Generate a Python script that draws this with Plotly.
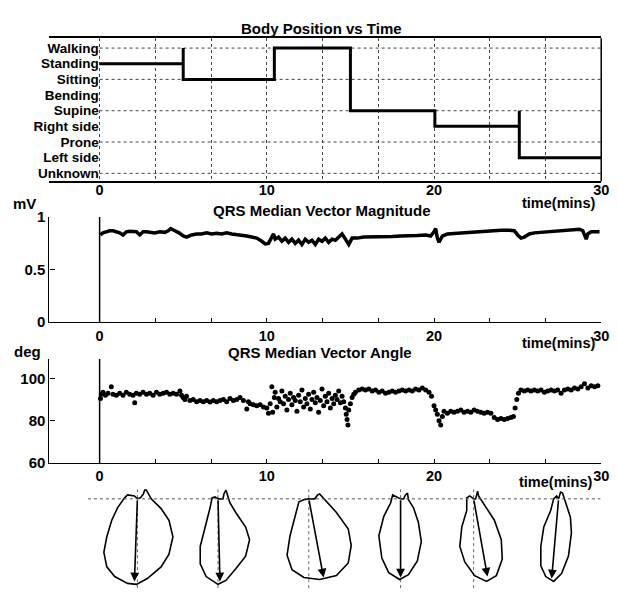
import plotly.graph_objects as go

# ---------------- data ----------------
positions = ["Walking", "Standing", "Sitting", "Bending", "Supine",
             "Right side", "Prone", "Left side", "Unknown"]          # top -> bottom
pos_times = [0, 5, 5, 5, 10.45, 10.45, 15, 15, 20.05, 20.05, 25.1, 25.1, 25.1, 30]
pos_states = ["Standing", "Standing", "Walking", "Sitting", "Sitting", "Walking",
              "Walking", "Supine", "Supine", "Right side", "Right side", "Supine",
              "Left side", "Left side"]

time_ticks = [0, 10, 20, 30]
time_minor = [10/3, 20/3, 40/3, 50/3, 70/3, 80/3]

mag_t = [0.05, 0.2, 0.4, 0.6, 0.8, 1.0, 1.2, 1.4, 1.6, 1.8, 2.0, 2.2, 2.4, 2.6, 2.8, 3.0,
         3.3, 3.6, 3.9, 4.1, 4.25, 4.5, 4.75, 5.0, 5.2, 5.5, 5.8, 6.1, 6.4, 6.7, 7.0, 7.3,
         7.6, 7.9, 8.2, 8.5, 8.8, 9.1, 9.4, 9.7, 9.9, 10.1, 10.3, 10.4, 10.5, 10.7, 10.9,
         11.1, 11.3, 11.5, 11.7, 11.9, 12.1, 12.3, 12.5, 12.7, 12.9, 13.1, 13.3, 13.5,
         13.7, 13.9, 14.1, 14.3, 14.5, 14.7, 14.9, 15.1, 15.4, 15.8, 16.2, 16.6, 17.0,
         17.5, 18.0, 18.5, 19.0, 19.5, 19.8, 20.0, 20.1, 20.2, 20.3, 20.5, 20.8, 21.2,
         21.6, 22.0, 22.5, 23.0, 23.5, 24.0, 24.5, 24.8, 25.0, 25.2, 25.4, 25.7, 26.0,
         26.5, 27.0, 27.5, 28.0, 28.4, 28.7, 28.9, 29.1, 29.2, 29.4, 29.7, 29.9]
mag_v = [0.83, 0.85, 0.86, 0.87, 0.87, 0.86, 0.85, 0.83, 0.86, 0.865, 0.865, 0.86, 0.83,
         0.86, 0.86, 0.855, 0.85, 0.86, 0.855, 0.87, 0.89, 0.87, 0.85, 0.82, 0.81, 0.83,
         0.84, 0.84, 0.85, 0.84, 0.845, 0.84, 0.85, 0.84, 0.835, 0.83, 0.82, 0.81, 0.80,
         0.77, 0.745, 0.75, 0.82, 0.84, 0.79, 0.81, 0.77, 0.80, 0.76, 0.79, 0.75, 0.78,
         0.74, 0.79, 0.76, 0.78, 0.74, 0.79, 0.77, 0.80, 0.76, 0.79, 0.78, 0.81, 0.84,
         0.79, 0.74, 0.80, 0.80, 0.81, 0.81, 0.81, 0.815, 0.815, 0.82, 0.82, 0.825, 0.83,
         0.82, 0.86, 0.89, 0.80, 0.76, 0.82, 0.84, 0.845, 0.85, 0.85, 0.855, 0.86, 0.87,
         0.875, 0.875, 0.87, 0.83, 0.80, 0.81, 0.84, 0.85, 0.855, 0.86, 0.865, 0.87, 0.88,
         0.885, 0.87, 0.79, 0.84, 0.86, 0.86, 0.86]

ang_t = [0.05, 0.1, 0.2, 0.35, 0.5, 0.7, 0.8, 1.0, 1.2, 1.4, 1.6, 1.8, 2.0, 2.1, 2.2, 2.4,
         2.6, 2.8, 3.0, 3.2, 3.4, 3.6, 3.8, 4.0, 4.2, 4.4, 4.6, 4.8, 4.9, 5.0, 5.1, 5.2,
         5.4, 5.6, 5.8, 6.0, 6.2, 6.4, 6.6, 6.8, 7.0, 7.2, 7.4, 7.6, 7.8, 8.0, 8.2, 8.4,
         8.6, 8.8, 8.9, 9.0, 9.2, 9.4, 9.6, 9.8, 10.0, 10.1, 10.2, 10.3, 10.35, 10.45,
         10.5, 10.6, 10.7, 10.8, 10.9, 11.0, 11.1, 11.2, 11.3, 11.4, 11.5, 11.6, 11.7,
         11.8, 11.9, 12.0, 12.1, 12.2, 12.3, 12.4, 12.5, 12.6, 12.7, 12.8, 12.9, 13.0,
         13.1, 13.2, 13.3, 13.4, 13.5, 13.6, 13.7, 13.8, 13.9, 14.0, 14.1, 14.2, 14.3,
         14.4, 14.5, 14.6, 14.7, 14.75, 14.8, 14.85, 14.9, 15.0, 15.1, 15.2, 15.3, 15.5,
         15.7, 15.9, 16.1, 16.3, 16.5, 16.7, 16.9, 17.1, 17.3, 17.5, 17.7, 17.9, 18.1,
         18.3, 18.5, 18.7, 18.9, 19.1, 19.3, 19.5, 19.7, 19.85, 20.0, 20.1, 20.2, 20.3,
         20.4, 20.5, 20.6, 20.8, 21.0, 21.2, 21.4, 21.6, 21.8, 22.0, 22.2, 22.4, 22.6,
         22.8, 23.0, 23.2, 23.4, 23.6, 23.8, 24.0, 24.2, 24.4, 24.6, 24.75, 24.85, 24.95,
         25.05, 25.2, 25.4, 25.6, 25.8, 26.0, 26.2, 26.4, 26.6, 26.8, 27.0, 27.2, 27.4,
         27.6, 27.8, 28.0, 28.2, 28.4, 28.6, 28.8, 29.0, 29.2, 29.4, 29.6, 29.8]
ang_v = [90.5, 92.5, 93.5, 92.0, 93.0, 96.0, 92.5, 92.0, 93.0, 92.0, 93.5, 92.5, 92.0,
         88.5, 93.0, 92.5, 93.5, 92.5, 93.0, 92.0, 93.5, 92.5, 93.0, 93.5, 92.5, 93.0,
         92.5, 94.0, 92.0, 91.0, 90.0, 91.5, 89.5, 90.0, 89.0, 89.5, 89.0, 89.5, 88.8,
         89.5, 89.0, 89.5, 90.0, 89.0, 90.5, 89.5, 90.0, 91.0, 89.5, 85.5, 89.0, 88.0,
         87.5, 87.0, 87.5, 86.5, 86.0, 83.5, 88.0, 96.0, 84.0, 91.0, 93.5, 86.5, 90.5,
         89.0, 94.0, 88.0, 91.5, 85.0, 90.0, 93.0, 87.5, 91.0, 89.5, 84.5, 92.0, 89.0,
         94.5, 86.5, 90.5, 88.0, 92.5, 85.5, 90.0, 93.5, 88.5, 91.0, 84.0, 89.5, 95.0,
         87.0, 91.5, 89.0, 93.0, 86.0, 90.5, 88.0, 92.0, 90.0, 94.0, 88.5, 91.5, 89.0,
         86.0, 83.0, 80.5, 78.0, 85.0, 88.0, 91.0, 92.5, 93.5, 94.5, 95.0, 94.5, 95.0,
         94.0, 94.5, 93.5, 94.0, 93.0, 93.5, 94.0, 93.5, 94.0, 94.5, 94.0, 94.5, 94.0,
         95.0, 94.5, 95.5, 94.5, 93.5, 91.5, 87.0, 85.0, 83.0, 80.0, 78.0, 82.0, 84.5,
         83.5, 84.5, 84.0, 84.5, 85.0, 84.0, 84.5, 84.0, 85.0, 84.5, 84.0, 83.5, 84.0,
         83.5, 81.5, 80.5, 81.0, 80.5, 81.0, 81.5, 82.0, 86.0, 90.0, 93.0, 94.5, 94.0,
         94.5, 94.0, 94.5, 94.0, 94.5, 93.5, 94.0, 94.5, 94.0, 94.5, 93.0, 94.5, 95.0,
         94.5, 95.5, 95.0, 96.0, 97.5, 95.5, 96.5, 96.0, 96.5]

# vector loops (one per posture), outline in loop units (lateral, inferior)
loop_times = [2.26, 7.08, 12.51, 18.0, 22.37, 27.45]
loop_outlines = [
    [(0, 0), (-3, -3), (-10, -4), (-13, -1), (-20, 9), (-26, 22), (-31, 39), (-34, 55),
     (-31, 70), (-23, 80), (-10, 87), (-1, 88), (10, 82), (24, 70), (32, 57), (36, 39),
     (32, 22), (24, 10), (14, 0), (10, -8), (8, -11), (6, -5), (3, -1), (0, 0)],
    [(0, 0), (-3, -2), (-6, -1), (-8, 9), (-13, 29), (-18, 49), (-18, 67), (-12, 80),
     (0, 88), (8, 84), (18, 72), (28, 59), (32, 42), (28, 29), (18, 14), (12, 4),
     (9, -6), (8, -9), (6, -5), (5, 0), (0, 0)],
    [(0, 0), (-5, 1), (-10, 3), (-14, 18), (-19, 38), (-22, 58), (-17, 73), (-5, 81),
     (11, 83), (28, 79), (40, 66), (43, 48), (40, 31), (28, 14), (16, 1), (11, -5),
     (9, -4), (6, 0), (0, 0)],
    [(0, 0), (-5, -2), (-8, -4), (-10, 4), (-17, 18), (-22, 38), (-19, 61), (-12, 76),
     (-1, 83), (8, 78), (17, 64), (21, 44), (18, 24), (13, 9), (8, 1), (7, -6),
     (5, -4), (3, 0), (0, 0)],
    [(0, 0), (-4, -3), (-7, -1), (-7, 12), (-12, 29), (-14, 49), (-9, 65), (1, 79),
     (13, 85), (23, 79), (29, 62), (28, 42), (21, 22), (11, 7), (5, -3), (4, -8),
     (3, -5), (2, 0), (0, 0)],
    [(0, 0), (-2, -3), (-5, 0), (-8, 12), (-15, 29), (-18, 49), (-18, 69), (-13, 80),
     (-5, 85), (3, 77), (10, 59), (13, 35), (12, 19), (7, 4), (4, -6), (2, -7),
     (1, -3), (0, 0)],
]
loop_vec_lat = [-3, 2, 15, 0, 14, -7]
loop_vec_inf = [85, 85, 81, 81, 80, 82]
loop_ref_lines = [True, True, True, True, True, False]

# ---------------- layout helpers ----------------
W, H = 618, 596
OFF = 8   # the page places the figure 8 px from the window's top-left corner
def px(x): return (x - OFF) / W
def py(y): return 1 - (y - OFF) / H

X_DOM = [px(50), px(609)]
X_RANGE = [-3, 30]
PX_PER_MIN = (609 - 50) / (X_RANGE[1] - X_RANGE[0])

FONT = "Liberation Sans, Arial, sans-serif"
def bfont(size):
    return dict(family=FONT, size=size, color="black", weight="bold")

GRID = dict(color="#444", width=1, dash="dot")
level = {name: len(positions) - 1 - i for i, name in enumerate(positions)}

fig = go.Figure()

# top: body position
fig.add_trace(go.Scatter(x=pos_times, y=[level[s] for s in pos_states], mode="lines",
                         line=dict(color="black", width=3), xaxis="x", yaxis="y",
                         showlegend=False, hoverinfo="skip"))
# middle: magnitude
fig.add_trace(go.Scatter(x=mag_t, y=mag_v, mode="lines",
                         line=dict(color="black", width=3.5), xaxis="x2", yaxis="y2",
                         showlegend=False))
# bottom: angle
fig.add_trace(go.Scatter(x=ang_t, y=ang_v, mode="markers",
                         marker=dict(color="black", size=5), xaxis="x3", yaxis="y3",
                         showlegend=False))

# loops
annotations = []
for t0, outline, vl, vi, ref in zip(loop_times, loop_outlines, loop_vec_lat,
                                    loop_vec_inf, loop_ref_lines):
    if ref:
        fig.add_trace(go.Scatter(x=[t0, t0], y=[10, -92], mode="lines",
                                 line=dict(color="#666", width=1, dash="dot"),
                                 xaxis="x4", yaxis="y4", showlegend=False))
    fig.add_trace(go.Scatter(x=[t0 + p[0] / PX_PER_MIN for p in outline],
                             y=[-p[1] for p in outline], mode="lines",
                             line=dict(color="black", width=1.6),
                             xaxis="x4", yaxis="y4", showlegend=False))
    annotations.append(dict(x=t0 + vl / PX_PER_MIN, y=-vi, ax=t0, ay=0,
                            xref="x4", yref="y4", axref="x4", ayref="y4",
                            showarrow=True, arrowhead=2, arrowsize=1.1,
                            arrowwidth=1.6, arrowcolor="black", text=""))
fig.add_trace(go.Scatter(x=[-0.7, 29.95], y=[0, 0], mode="lines",
                         line=dict(color="#555", width=1, dash="dot"),
                         xaxis="x4", yaxis="y4", showlegend=False))

axis_common = dict(range=X_RANGE, domain=X_DOM, tickvals=time_ticks,
                   tickfont=bfont(14.5), zeroline=False,
                   linecolor="black", showline=True)

fig.update_layout(
    width=W, height=H, margin=dict(l=0, r=0, t=0, b=0),
    paper_bgcolor="white", plot_bgcolor="white", showlegend=False,
    xaxis=dict(**axis_common, anchor="y", mirror=True, linewidth=1.5, ticks="",
               ticklabelstandoff=-5,
               showgrid=True, gridcolor="#444", griddash="dot", gridwidth=1,
               minor=dict(tickvals=time_minor, showgrid=True, gridcolor="#444",
                          griddash="dot", gridwidth=1, ticks="")),
    yaxis=dict(domain=[py(177), py(30)], range=[-0.5, 8.62], anchor="free",
               position=px(100), tickvals=[level[p] for p in positions],
               ticktext=positions, tickfont=bfont(13.5), ticks="", showline=False,
               showgrid=False, zeroline=False),
    xaxis2=dict(**axis_common, anchor="y2", linewidth=1.2, ticks="inside", ticklen=4,
                tickcolor="black", showgrid=False,
                minor=dict(tickvals=time_minor, ticks="inside", ticklen=4,
                           tickcolor="black")),
    yaxis2=dict(domain=[py(322), py(214)], range=[0, 1], anchor="x2",
                tickvals=[0, 0.5, 1], ticktext=["0", "0.5", "1"],
                tickfont=bfont(15), ticks="inside", ticklen=5, tickcolor="black",
                showline=True, linecolor="black", linewidth=1.2, showgrid=False,
                zeroline=False),
    xaxis3=dict(**axis_common, anchor="y3", linewidth=1.2, ticks="inside", ticklen=4,
                tickcolor="black", showgrid=False,
                minor=dict(tickvals=time_minor, ticks="inside", ticklen=4,
                           tickcolor="black")),
    yaxis3=dict(domain=[py(467), py(360)], range=[60, 109.2], anchor="x3",
                tickvals=[60, 80, 100], tickfont=bfont(15), ticks="inside", ticklen=5,
                tickcolor="black", showline=True, linecolor="black", linewidth=1.2,
                showgrid=False, zeroline=False),
    xaxis4=dict(domain=X_DOM, range=X_RANGE, anchor="y4", visible=False),
    yaxis4=dict(domain=[py(596), py(494)], range=[-92, 10], anchor="x4", visible=False),
)

# horizontal dotted grid of the posture panel (every other posture, from t = 0)
for p in positions[::2]:
    fig.add_shape(type="line", xref="x", yref="y", x0=0, x1=X_RANGE[1],
                  y0=level[p], y1=level[p], line=GRID, layer="below")
# vertical zero lines at t = 0 in middle and bottom panels
for xa, ya in (("x2", "y2"), ("x3", "y3")):
    fig.add_shape(type="line", xref=xa, yref=f"{ya} domain", x0=0, x1=0, y0=0, y1=1,
                  line=dict(color="black", width=1.5))
# right border of top panel
fig.add_shape(type="line", xref="x domain", yref="y domain", x0=1, x1=1, y0=0, y1=1,
              line=dict(color="black", width=1.5))

texts = [
    ("Body Position vs Time", 326, 20, 15),
    ("QRS Median Vector Magnitude", 326, 207, 15),
    ("QRS Median Vector Angle", 324, 353, 15),
    ("mV", 25, 200, 15),
    ("deg", 28, 352, 15),
    ("time(mins)", 566, 199, 14.5),
    ("time(mins)", 566, 344, 14.5),
    ("time(mins)", 563, 487, 14.5),
]
for txt, x, y, sz in texts:
    annotations.append(dict(text=txt, x=px(x), y=py(y), xref="paper", yref="paper",
                            xanchor="center", yanchor="middle", showarrow=False,
                            font=bfont(sz)))
fig.update_layout(annotations=annotations)

fig.write_html("out.html")
